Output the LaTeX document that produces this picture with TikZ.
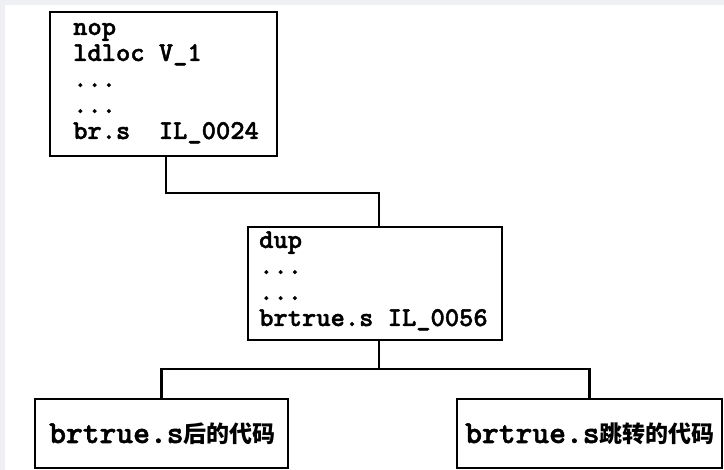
\documentclass[tikz,border=0pt]{standalone}
\usepackage{fontspec}
\newfontfamily\monof{lmmonolt10-bold.otf}[FakeBold=1.6]
\newfontfamily\cjkf{Noto Sans CJK SC}
\definecolor{bandgray}{HTML}{EEF0F4}
\begin{document}
\begin{tikzpicture}[x=1pt,y=-1pt,
  box/.style={draw=black, line width=2.8pt, fill=white, inner sep=0pt, rectangle},
  codeline/.style={anchor=base west, inner sep=0pt, font=\monof\fontsize{27.2}{26}\selectfont},
  bigline/.style={anchor=base west, inner sep=0pt, font=\monof\fontsize{32}{30}\selectfont},
  link/.style={draw=black, line width=2.8pt, line join=miter}
]
\useasboundingbox (0,0) rectangle (724,470);
\fill[bandgray] (0,0) rectangle (724,470);
\fill[white] (5,5) rectangle (724,470);

% boxes
\node[box, minimum width=227pt, minimum height=144pt] (b1) at (163.5,84) {};
\node[box, minimum width=254pt, minimum height=113pt] (b2) at (375,283.5) {};
\node[box, minimum width=253pt, minimum height=69pt] (b3) at (161.5,433.5) {};
\node[box, minimum width=265pt, minimum height=69pt] (b4) at (589.5,433.5) {};

% text of box 1
\node[codeline] (t1a) at (73,35) {nop};
\node[codeline] (t1b) at (73,61) {ldloc V\_1};
\node[codeline] (t1c) at (73,87) {...};
\node[codeline] (t1d) at (73,113) {...};
\node[codeline] (t1e) at (73,139) {br.s\ \ IL\_0024};

% text of box 2
\node[codeline] (t2a) at (259,248) {dup};
\node[codeline] (t2b) at (259,274) {...};
\node[codeline] (t2c) at (259,300) {...};
\node[codeline] (t2d) at (259,326) {brtrue.s IL\_0056};

% bottom texts
\node[bigline] (t3) at (49,443) {brtrue.s{\cjkf\bfseries\fontsize{23}{26}\selectfont 后的代码}};
\node[bigline] (t4) at (465,443) {brtrue.s{\cjkf\bfseries\fontsize{23}{26}\selectfont 跳转的代码}};

% connectors
\coordinate (j1) at (166,193);
\coordinate (j2) at (379,369);
\draw[link] ([xshift=2.5pt]b1.south) |- (j1) -| ([xshift=4pt]b2.north);
\draw[link] ([xshift=4pt]b2.south) -- (j2);
\draw[link] (b3.north) |- (j2) -| (b4.north);
\end{tikzpicture}
\end{document}
